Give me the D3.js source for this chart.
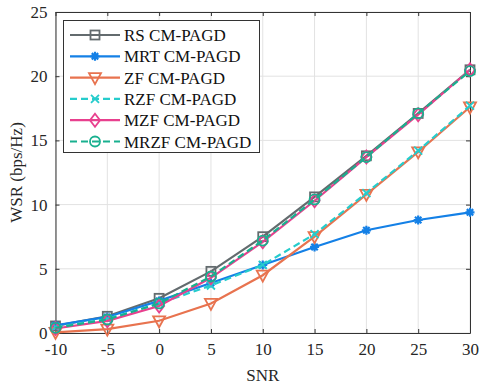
<!DOCTYPE html>
<html><head><meta charset="utf-8">
<script src="https://cdn.jsdelivr.net/npm/d3@7"></script>
<style>body{margin:0;background:#fff}svg{display:block}</style>
</head><body>
<script>
const snr = [-10,-5,0,5,10,15,20,25,30];
const rs   = [0.55,1.3,2.7,4.8,7.5,10.6,13.8,17.1,20.5];
const mrt  = [0.6,1.25,2.5,3.9,5.3,6.7,8.0,8.8,9.4];
const zf   = [0.05,0.3,0.95,2.3,4.5,7.5,10.8,14.1,17.6];
const rzf  = [0.45,1.1,2.3,3.7,5.3,7.7,10.9,14.2,17.7];
const mzf  = [0.35,0.95,2.1,4.3,7.1,10.3,13.7,17.0,20.5];
const mrzf = [0.4,1.05,2.3,4.4,7.2,10.4,13.7,17.1,20.4];
const xTicks = [-10,-5,0,5,10,15,20,25,30];
const yTicks = [0,5,10,15,20,25];
const names = ["RS CM-PAGD","MRT CM-PAGD","ZF CM-PAGD","RZF CM-PAGD","MZF CM-PAGD","MRZF CM-PAGD"];
const colors = ["#636b6e","#1480e6","#e8734f","#26cccc","#e8408e","#19b08f"];
const markers = ["square","star","tri","x","diamond","circle"];
const dashed = [false,false,false,true,false,true];
const series = [rs,mrt,zf,rzf,mzf,mrzf];

const FONT='"Liberation Serif", "Times New Roman", Times, serif';
const W=484,H=384;
const m={l:55.5,r:14,t:12,b:51};
const svg=d3.select("body").append("svg").attr("width",W).attr("height",H);
const x=d3.scaleLinear().domain([-10,30]).range([m.l,W-m.r]);
const y=d3.scaleLinear().domain([0,25]).range([H-m.b,m.t]);
const x0=m.l,x1=W-m.r,y0=H-m.b,y1=m.t;

// grid
svg.append("g").selectAll("line").data(xTicks).join("line")
 .attr("x1",d=>x(d)).attr("x2",d=>x(d)).attr("y1",y1).attr("y2",y0).attr("stroke","#e2e2e2").attr("stroke-width",1);
svg.append("g").selectAll("line").data(yTicks).join("line")
 .attr("y1",d=>y(d)).attr("y2",d=>y(d)).attr("x1",x0).attr("x2",x1).attr("stroke","#e2e2e2").attr("stroke-width",1);

// axes
const fmt=d=>String(d);
const ax=svg.append("g").attr("transform",`translate(0,${y0})`).call(d3.axisBottom(x).tickValues(xTicks).tickFormat(fmt).tickSizeInner(-4).tickSizeOuter(0).tickPadding(10));
const axt=svg.append("g").attr("transform",`translate(0,${y1})`).call(d3.axisTop(x).tickValues(xTicks).tickSizeInner(-4).tickSizeOuter(0).tickFormat(""));
const ay=svg.append("g").attr("transform",`translate(${x0},0)`).call(d3.axisLeft(y).tickValues(yTicks).tickFormat(fmt).tickSizeInner(-4).tickSizeOuter(0).tickPadding(8));
const ayr=svg.append("g").attr("transform",`translate(${x1},0)`).call(d3.axisRight(y).tickValues(yTicks).tickSizeInner(-4).tickSizeOuter(0).tickFormat(""));
[ax,axt,ay,ayr].forEach(g=>{g.attr("font-family",FONT).attr("font-size",17);g.selectAll("path,line").attr("stroke","#333");g.selectAll("text").attr("fill","#262626");});

svg.append("text").attr("x",(x0+x1)/2).attr("y",381).attr("text-anchor","middle").attr("fill","#262626").attr("font-family",FONT).attr("font-size",17).text("SNR");
svg.append("text").attr("transform",`translate(22,${(y0+y1)/2}) rotate(-90)`).attr("text-anchor","middle").attr("fill","#262626").attr("font-family",FONT).attr("font-size",17).text("WSR (bps/Hz)");

function drawMarker(g,type,cx,cy,col){
  const s=5;
  if(type==="square") g.append("rect").attr("x",cx-s+0.5).attr("y",cy-s+0.5).attr("width",2*s-1).attr("height",2*s-1).attr("fill","none").attr("stroke",col).attr("stroke-width",1.8);
  else if(type==="circle") g.append("circle").attr("cx",cx).attr("cy",cy).attr("r",s).attr("fill","none").attr("stroke",col).attr("stroke-width",1.8);
  else if(type==="diamond") g.append("path").attr("d",`M${cx},${cy-6.5}L${cx+5},${cy}L${cx},${cy+6.5}L${cx-5},${cy}Z`).attr("fill","none").attr("stroke",col).attr("stroke-width",1.8);
  else if(type==="tri") g.append("path").attr("d",`M${cx-6},${cy-4.5}L${cx+6},${cy-4.5}L${cx},${cy+6.5}Z`).attr("fill","none").attr("stroke",col).attr("stroke-width",1.8);
  else if(type==="x") g.append("path").attr("d",`M${cx-4},${cy-4}L${cx+4},${cy+4}M${cx-4},${cy+4}L${cx+4},${cy-4}`).attr("stroke",col).attr("stroke-width",1.8);
  else if(type==="star") g.append("path").attr("d",`M${cx-4.5},${cy}L${cx+4.5},${cy}M${cx},${cy-4.5}L${cx},${cy+4.5}M${cx-3.2},${cy-3.2}L${cx+3.2},${cy+3.2}M${cx-3.2},${cy+3.2}L${cx+3.2},${cy-3.2}`).attr("stroke",col).attr("stroke-width",2.2);
}

const line=d3.line().x((d,i)=>x(snr[i])).y(d=>y(d));
const plot=svg.append("g");
series.forEach((s,k)=>{
  const g=plot.append("g");
  g.append("path").datum(s).attr("d",line).attr("fill","none").attr("stroke",colors[k]).attr("stroke-width",2.2)
   .attr("stroke-dasharray",dashed[k]?"7,4":null);
  s.forEach((v,i)=>drawMarker(g,markers[k],x(snr[i]),y(v),colors[k]));
});

// legend
const lg=svg.append("g");
lg.append("rect").attr("x",63.5).attr("y",20.5).attr("width",196).attr("height",132).attr("fill","#fff").attr("stroke","#333").attr("stroke-width",1);
names.forEach((n,k)=>{
  const cy=35+k*21.3;
  lg.append("line").attr("x1",70).attr("x2",120).attr("y1",cy).attr("y2",cy).attr("stroke",colors[k]).attr("stroke-width",2.2).attr("stroke-dasharray",dashed[k]?"7,4":null);
  drawMarker(lg,markers[k],95,cy,colors[k]);
  lg.append("text").attr("x",124).attr("y",cy+6).attr("fill","#111").attr("font-family",FONT).attr("font-size",17).text(n);
});
</script>
</body></html>
